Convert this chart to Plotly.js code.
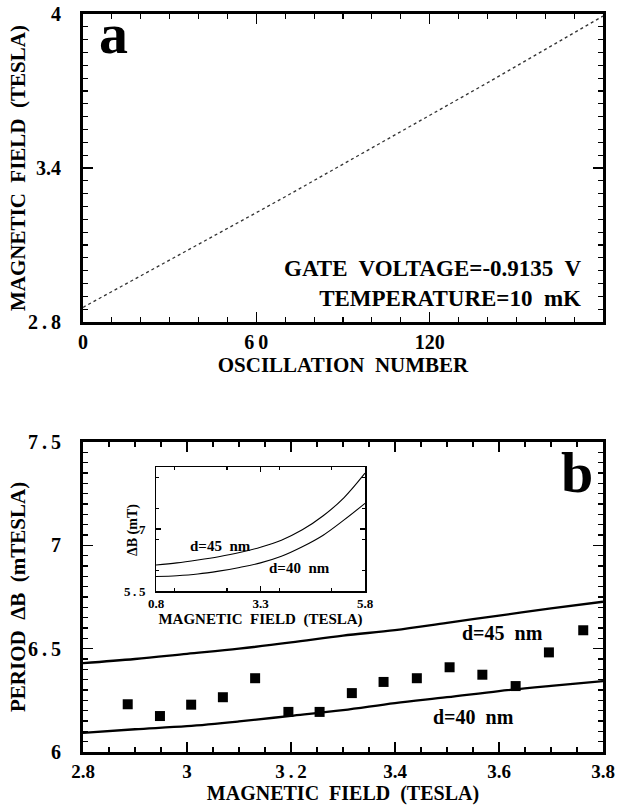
<!DOCTYPE html>
<html>
<head>
<meta charset="utf-8">
<script src="https://cdn.plot.ly/plotly-3.0.1.min.js"></script>
<style>
html,body{margin:0;padding:0;background:#fff;}
#wrap{position:relative;width:617px;height:809px;}
#panelA{position:absolute;left:0;top:0;width:617px;height:404px;}
#panelB{position:absolute;left:0;top:404px;width:617px;height:405px;}
#inset{position:absolute;left:110px;top:460px;width:270px;height:176px;}
</style>
</head>
<body>
<div id="wrap"><div id="panelA"></div><div id="panelB"></div><div id="inset"></div></div>
<script>
// Panel a: magnetic field vs oscillation number
const oscNumber = [0,10,20,30,40,50,60,70,80,90,100,110,120,130,140,150,160,170,180];
const oscField = [2.857,2.918,2.980,3.041,3.102,3.164,3.226,3.288,3.351,3.414,3.477,3.540,3.604,3.668,3.732,3.797,3.862,3.927,3.992];

// Panel b: measured period vs field
const measField = [2.886,2.948,3.008,3.069,3.131,3.195,3.255,3.317,3.378,3.442,3.505,3.568,3.632,3.696,3.762];
const measPeriod = [6.231,6.174,6.229,6.265,6.357,6.194,6.194,6.285,6.339,6.357,6.410,6.374,6.319,6.482,6.589];

// Panel b: model curves
const modelField = [2.8,2.9,3.0,3.1,3.2,3.3,3.4,3.5,3.6,3.7,3.8];
const model45 = [6.430,6.450,6.475,6.500,6.530,6.563,6.590,6.625,6.660,6.695,6.727];
const model40 = [6.093,6.110,6.125,6.148,6.175,6.203,6.237,6.265,6.295,6.320,6.343];

// Inset: model curves over a wider field range
const insetField = [0.8,1.3,1.8,2.3,2.8,3.3,3.8,4.3,4.8,5.3,5.8];
const inset45 = [6.13,6.18,6.25,6.33,6.43,6.56,6.73,6.98,7.32,7.76,8.35];
const inset40 = [5.85,5.87,5.91,5.98,6.07,6.18,6.34,6.57,6.85,7.22,7.62];

// Tick labels (thin spaces reproduce the spaced-out digits of the original)
const aXTicks = [0,60,120,180], aXText = ['0','6\u20090','120','180'];
const aYTicks = [2.8,3.4,4], aYText = ['2\u2009.\u20098','3.4','4'];
const bXTicks = [2.8,3,3.2,3.4,3.6,3.8], bXText = ['2.8','3','3\u2009.\u20092','3.4','3.6','3.8'];
const bYTicks = [6,6.5,7,7.5], bYText = ['6','6\u2009.\u20095','7','7\u2009.\u20095'];
const iXTicks = [0.8,3.3,5.8], iXText = ['0.8','3.3','5.8'];
const iYTicks = [5.5,7,8.5], iYText = ['5\u2009.\u20095','7','8\u2009.\u20095'];

const FONT = "'Liberation Serif','Times New Roman',serif";
const alias = (vals, texts, pad) => {
  const m = {};
  vals.forEach((v, i) => { m[String(v)] = texts[i] + '\u00A0'.repeat(pad || 0); });
  return m;
};
const cfg = {displayModeBar: false, staticPlot: true};
const ann = (text, x, y, size, extra) => Object.assign({text: text, xref: 'paper', yref: 'paper', x: x, y: y,
  xanchor: 'center', yanchor: 'middle', showarrow: false, font: {size: size}}, extra || {});

function frameAxis(extra, lw, len) {
  return Object.assign({
    showline: true, linewidth: lw, linecolor: '#000', mirror: 'allticks',
    ticks: 'inside', ticklen: len, tickwidth: 1.2, tickcolor: '#000',
    showgrid: false, zeroline: false
  }, extra);
}

// ---------- Panel a ----------
Plotly.newPlot('panelA', [
  {x: oscNumber, y: oscField, mode: 'lines', line: {color: '#333', width: 1.3, dash: 'dot'}, hoverinfo: 'none'}
], {
  width: 617, height: 404, margin: {l: 83, r: 14, t: 14, b: 82},
  font: {family: FONT, size: 20, color: '#000', weight: 'bold'},
  paper_bgcolor: '#fff', plot_bgcolor: 'rgba(0,0,0,0)', showlegend: false,
  xaxis: frameAxis({range: [0,180], dtick: aXTicks[1] - aXTicks[0], labelalias: alias(aXTicks, aXText),
    minor: {dtick: 10, ticks: 'inside', ticklen: 5},
    title: {text: 'OSCILLATION  NUMBER', font: {size: 21}, standoff: 4}}, 3, 10),
  yaxis: frameAxis({range: [2.8,4], tick0: aYTicks[0], dtick: aYTicks[1] - aYTicks[0], labelalias: alias(aYTicks, aYText, 3),
    minor: {dtick: 0.05, ticks: 'inside', ticklen: 5}}, 3, 10),
  annotations: [
    ann('MAGNETIC  FIELD  (TESLA)', -0.125, 0.5, 21, {textangle: -90}),
    ann('a', 0.0596, 0.938, 58),
    ann('GATE  VOLTAGE=-0.9135  V<br>TEMPERATURE=10  mK', 0.9615, 0.1258, 23, {xanchor: 'right', align: 'right'})
  ]
}, cfg);

// ---------- Panel b ----------
Plotly.newPlot('panelB', [
  {x: modelField, y: model45, mode: 'lines', line: {color: '#000', width: 2.3, shape: 'spline'}, hoverinfo: 'none'},
  {x: modelField, y: model40, mode: 'lines', line: {color: '#000', width: 2.3, shape: 'spline'}, hoverinfo: 'none'},
  {x: measField, y: measPeriod, mode: 'markers', marker: {symbol: 'square', size: 10, color: '#000'}, hoverinfo: 'none'}
], {
  width: 617, height: 405, margin: {l: 83, r: 14, t: 38, b: 57},
  font: {family: FONT, size: 20, color: '#000', weight: 'bold'},
  paper_bgcolor: '#fff', plot_bgcolor: 'rgba(0,0,0,0)', showlegend: false,
  xaxis: frameAxis({range: [2.8,3.8], tick0: bXTicks[0], dtick: 0.2, labelalias: alias(bXTicks, bXText),
    tickfont: {size: 19}, minor: {dtick: 0.05, ticks: 'inside', ticklen: 5},
    title: {text: 'MAGNETIC  FIELD  (TESLA)', font: {size: 20}, standoff: 5}}, 3, 10),
  yaxis: frameAxis({range: [6,7.5], tick0: bYTicks[0], dtick: 0.5, labelalias: alias(bYTicks, bYText, 3),
    minor: {dtick: 0.05, ticks: 'inside', ticklen: 5}}, 3, 10),
  annotations: [
    ann('PERIOD  ΔB  (mTESLA)', -0.125, 0.5, 21, {textangle: -90}),
    ann('b', 0.95, 0.9032, 58),
    ann('d=45  nm', 0.8058, 0.3839, 20),
    ann('d=40  nm', 0.7519, 0.1139, 20)
  ]
}, cfg);

// ---------- Inset ----------
Plotly.newPlot('inset', [
  {x: insetField, y: inset45, mode: 'lines', line: {color: '#000', width: 1.1, shape: 'spline'}, hoverinfo: 'none'},
  {x: insetField, y: inset40, mode: 'lines', line: {color: '#000', width: 1.1, shape: 'spline'}, hoverinfo: 'none'}
], {
  width: 270, height: 176, margin: {l: 46, r: 15, t: 7, b: 45},
  font: {family: FONT, size: 13, color: '#000', weight: 'bold'},
  paper_bgcolor: 'rgba(0,0,0,0)', plot_bgcolor: 'rgba(0,0,0,0)', showlegend: false,
  xaxis: frameAxis({range: [0.8,5.8], tick0: iXTicks[0], dtick: 2.5, labelalias: alias(iXTicks, iXText),
    minor: {dtick: 1.25, ticks: 'inside', ticklen: 3},
    title: {text: 'MAGNETIC  FIELD  (TESLA)', font: {size: 15}, standoff: 0}}, 1.5, 5),
  yaxis: frameAxis({range: [5.5,8.5], tick0: iYTicks[0], dtick: 1.5, labelalias: alias(iYTicks, iYText, 2),
    minor: {dtick: 0.75, ticks: 'inside', ticklen: 3}}, 1.5, 5),
  annotations: [
    ann('ΔB (mT)', -0.11, 0.4919, 14, {textangle: -90}),
    ann('d=45  nm', 0.3086, 0.3629, 15),
    ann('d=40  nm', 0.6866, 0.1855, 15)
  ]
}, cfg);
</script>
</body>
</html>
